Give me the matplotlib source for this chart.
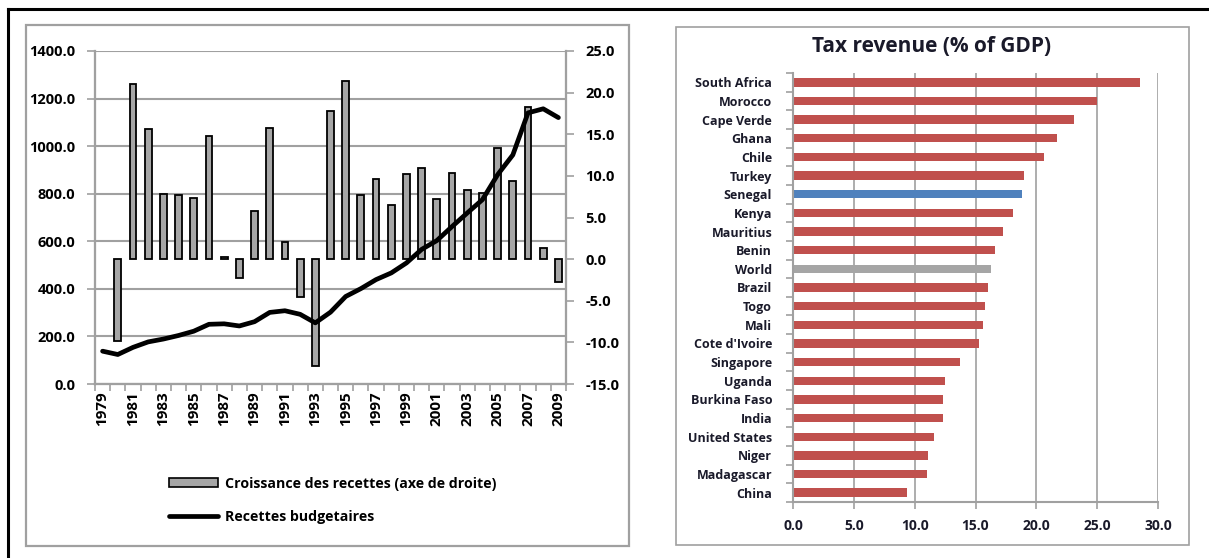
import matplotlib
matplotlib.use("Agg")
import matplotlib.pyplot as plt
from matplotlib.patches import Rectangle, Patch
from matplotlib.lines import Line2D
import numpy as np

plt.rcParams['font.family'] = ['Open Sans', 'DejaVu Sans']
plt.rcParams['font.weight'] = 'bold'

# Recettes budgetaires (axe de gauche) et croissance (axe de droite)
years = list(range(1979, 2010))
recettes = [138, 124, 154, 177, 189, 204, 222, 251, 253, 244, 262, 301, 308, 293,
            257, 302, 368, 401, 439, 467, 509, 566, 603, 662, 719, 775, 880, 963,
            1140, 1157, 1120]
croissance = [np.nan, -9.8, 21.0, 15.6, 7.8, 7.7, 7.3, 14.8, 0.2, -2.3, 5.8, 15.8,
              2.1, -4.5, -12.8, 17.8, 21.4, 7.7, 9.6, 6.5, 10.2, 11.0, 7.2, 10.3,
              8.3, 7.9, 13.3, 9.4, 18.3, 1.3, -2.7]

# Tax revenue (% of GDP)
countries = ['South Africa', 'Morocco', 'Cape Verde', 'Ghana', 'Chile', 'Turkey',
             'Senegal', 'Kenya', 'Mauritius', 'Benin', 'World', 'Brazil', 'Togo',
             'Mali', "Cote d'Ivoire", 'Singapore', 'Uganda', 'Burkina Faso', 'India',
             'United States', 'Niger', 'Madagascar', 'China']
tax = [28.5, 25.0, 23.1, 21.7, 20.6, 19.0, 18.85, 18.1, 17.3, 16.6, 16.3, 16.05,
       15.8, 15.6, 15.3, 13.75, 12.5, 12.35, 12.3, 11.55, 11.1, 11.05, 9.35]

grey = '#a0a0a0'
W, H = 1209, 558
fig = plt.figure(figsize=(W / 100, H / 100), dpi=100)


def box(x0, y0, x1, y1, **kw):
    # rectangle given in pixel coordinates from top-left
    fig.patches.append(Rectangle((x0 / W, 1 - y1 / H), (x1 - x0) / W, (y1 - y0) / H,
                                 transform=fig.transFigure, fill=False, **kw))


# outer frame
fig.add_artist(Line2D([8 / W, 1], [1 - 9 / H, 1 - 9 / H], color='black', lw=2.2,
                      transform=fig.transFigure))
fig.add_artist(Line2D([8 / W, 8 / W], [0, 1 - 9 / H], color='black', lw=2.2,
                      transform=fig.transFigure))
box(26, 25, 629, 546, edgecolor=grey, lw=1.6)
box(676, 27, 1189, 545, edgecolor=grey, lw=1.2)

# ---- left chart ----
ax = fig.add_axes([95 / W, 1 - 384 / H, (566 - 95) / W, (384 - 51) / H])
ax2 = ax.twinx()
ax3 = ax.twinx()
x = np.arange(len(years))

ax.set_ylim(0, 1400)
ax.set_yticks(np.arange(0, 1401, 200))
ax.set_yticklabels([f'{v:.1f}' for v in np.arange(0, 1401, 200)], fontsize=10.5)
ax.grid(axis='y', color=grey, lw=1.5)
ax.set_axisbelow(True)

ax2.bar(x, croissance, width=0.45, color='#a6a6a6', edgecolor='black', lw=1.3)
ax2.set_ylim(-15, 25)
ax2.set_yticks(np.arange(-15, 26, 5))
ax2.set_yticklabels([f'{v:.1f}' for v in np.arange(-15, 26, 5)], fontsize=10.5)

ax3.plot(x, recettes, color='black', lw=3.4, solid_capstyle='round',
         solid_joinstyle='round')
ax3.set_ylim(0, 1400)
ax3.set_yticks([])

ax.set_xlim(-0.5, len(years) - 0.5)
ax.set_xticks(x[::2])
ax.set_xticklabels([str(y) for y in years[::2]], rotation=90, fontsize=11)
ax.set_xticks(np.arange(-0.5, len(years), 1), minor=True)
ax.tick_params(axis='x', which='major', length=0, pad=5)
ax.tick_params(axis='x', which='minor', length=5, color=grey, width=1.2)
ax.tick_params(axis='y', length=6, color=grey, width=1.2, pad=8)
ax2.tick_params(axis='y', length=6, color=grey, width=1.2, pad=8)
for a in (ax, ax2, ax3):
    a.spines['top'].set_visible(False)
    for s in ('left', 'right', 'bottom'):
        a.spines[s].set_color(grey)
        a.spines[s].set_linewidth(1.5)

handles = [Patch(facecolor='#a6a6a6', edgecolor='black', lw=1.2),
           Line2D([], [], color='black', lw=3.4, solid_capstyle='round')]
fig.legend(handles, ['Croissance des recettes (axe de droite)', 'Recettes budgetaires'],
           loc='upper left', bbox_to_anchor=(156 / W, 1 - 464 / H), frameon=False,
           fontsize=10.2, handlelength=3.5, handleheight=0.6, handletextpad=0.45,
           labelspacing=1.35)

# ---- right chart ----
bx = fig.add_axes([793 / W, 1 - 502 / H, (1158 - 793) / W, (502 - 73) / H])
colors = ['#c0504d'] * len(countries)
colors[countries.index('Senegal')] = '#4f81bd'
colors[countries.index('World')] = '#a5a5a5'
pos = np.arange(len(countries))
bx.barh(pos, tax, height=0.45, color=colors)
bx.set_ylim(len(countries) - 0.5, -0.5)
bx.set_yticks(pos)
bx.set_yticklabels(countries, fontsize=9, color='#1a1a2a')
bx.set_yticks(np.arange(-0.5, len(countries), 1), minor=True)
bx.tick_params(axis='y', which='major', length=0, pad=15)
bx.tick_params(axis='y', which='minor', length=5, color=grey, width=1.2)
bx.set_xlim(0, 30)
bx.set_xticks(np.arange(0, 31, 5))
bx.set_xticklabels([f'{v:.1f}' for v in np.arange(0, 31, 5)], fontsize=10,
                   color='#1a1a2a')
bx.tick_params(axis='x', length=5, color=grey, width=1.2, pad=7)
bx.grid(axis='x', color=grey, lw=1.2)
bx.set_axisbelow(True)
for s in ('top', 'right'):
    bx.spines[s].set_visible(False)
for s in ('left', 'bottom'):
    bx.spines[s].set_color(grey)
    bx.spines[s].set_linewidth(1.5)
fig.text(932 / W, 1 - 47 / H, 'Tax revenue (% of GDP)', ha='center', va='center',
         fontsize=15, fontweight='bold', color='#1a1a2a')

fig.savefig('out.png', dpi=100)
